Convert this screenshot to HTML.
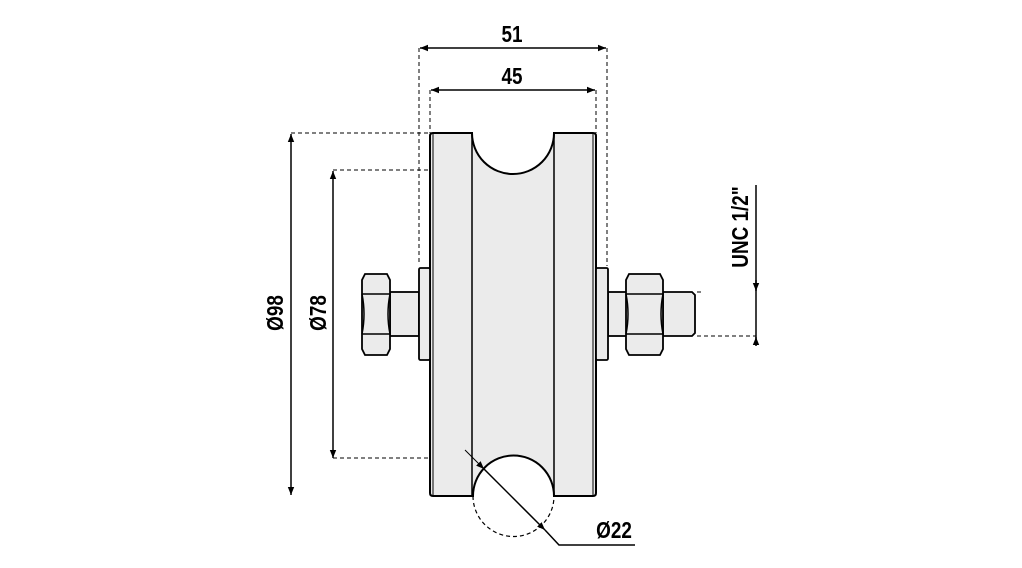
<!DOCTYPE html>
<html><head><meta charset="utf-8"><style>
html,body{margin:0;padding:0;background:#fff;}
svg{display:block}
text{font-family:"Liberation Sans Narrow","Liberation Sans",sans-serif;font-weight:bold;font-size:21px;fill:#000}
</style></head><body>
<svg width="1022" height="568" viewBox="0 0 1022 568" xmlns="http://www.w3.org/2000/svg">
<defs>
<marker id="a" viewBox="0 0 10 10" refX="10" refY="5" markerWidth="8" markerHeight="8" orient="auto-start-reverse" markerUnits="userSpaceOnUse"><path d="M0,1 L10,5 L0,9 Z" fill="#000"/></marker>
</defs>
<g stroke="#000" stroke-width="1" stroke-dasharray="4,3" fill="none">
<line x1="419" y1="48" x2="419" y2="262"/>
<line x1="607" y1="48" x2="607" y2="266"/>
<line x1="430" y1="90" x2="430" y2="133"/>
<line x1="596" y1="90" x2="596" y2="133"/>
<line x1="291" y1="133" x2="430" y2="133"/>
<line x1="333" y1="170" x2="430" y2="170"/>
<line x1="333" y1="458" x2="430" y2="458"/>
<line x1="697" y1="336" x2="756" y2="336"/>
<line x1="697" y1="292" x2="701" y2="292"/>
</g>
<g stroke="#000" stroke-width="1.5" fill="none">
<line x1="420" y1="48" x2="606" y2="48" marker-start="url(#a)" marker-end="url(#a)"/>
<line x1="431" y1="90" x2="595" y2="90" marker-start="url(#a)" marker-end="url(#a)"/>
<line x1="291" y1="134" x2="291" y2="495" marker-start="url(#a)" marker-end="url(#a)"/>
<line x1="333" y1="171" x2="333" y2="458" marker-start="url(#a)" marker-end="url(#a)"/>
<line x1="756" y1="185" x2="756" y2="345"/>
<line x1="756" y1="280" x2="756" y2="291" marker-end="url(#a)"/>
<line x1="756" y1="346" x2="756" y2="337" marker-end="url(#a)"/>
</g>
<!-- wheel -->
<path d="M430,136 Q430,133 433,133 L472,133 A41,41 0 0 0 554,133 L593,133 Q596,133 596,136 L596,493 Q596,496 593,496 L554,496 A40,40 0 0 0 473,496 L433,496 Q430,496 430,493 Z" fill="#ebebeb" stroke="#000" stroke-width="2"/>
<g stroke="#000" stroke-width="1.5">
<line x1="472" y1="133" x2="472" y2="496"/>
<line x1="554" y1="133" x2="554" y2="496"/>
<line x1="433" y1="134" x2="433" y2="495" stroke-width="1"/>
<line x1="593" y1="134" x2="593" y2="495" stroke-width="1"/>
</g>
<path d="M473,496 A40,40 0 0 0 554,496" fill="none" stroke="#000" stroke-width="1.2" stroke-dasharray="4,3"/>
<!-- washers, shafts, nuts -->
<g fill="#ebebeb" stroke="#000" stroke-width="1.8">
<rect x="390" y="292" width="29" height="44"/>
<rect x="608" y="292" width="19" height="44"/>
<path d="M663,292 L692,292 L695,295 L695,333 L692,336 L663,336 Z"/>
<rect x="419" y="268" width="11" height="92" rx="1.5"/>
<rect x="596" y="268" width="12" height="92" rx="1.5"/>
<path d="M365,274 L387,274 L390,280 L390,349 L387,355 L365,355 L362,349 L362,280 Z"/>
<path d="M629,274 L660,274 L663,280 L663,349 L660,355 L629,355 L626,349 L626,280 Z"/>
</g>
<g stroke="#000" stroke-width="1.5" fill="none">
<path d="M362,294 L390,294 M362,334 L390,334"/>
<path d="M626,294 L663,294 M626,334 L663,334"/>
<path d="M362,294 Q366,314 362,334 M390,294 Q386,314 390,334"/>
<path d="M626,294 Q630,314 626,334 M663,294 Q659,314 663,334"/>
</g>
<!-- Ø22 leader -->
<line x1="465" y1="450" x2="484" y2="469" stroke="#000" stroke-width="1" marker-end="url(#a)"/>
<line x1="545" y1="530" x2="484" y2="469" stroke="#000" stroke-width="1.5" marker-start="url(#a)"/>
<polyline points="545,530 559,545 635,545" fill="none" stroke="#000" stroke-width="1.5"/>
<text transform="translate(512,42) scale(0.9,1.1)" text-anchor="middle">51</text>
<text transform="translate(512,84) scale(0.9,1.1)" text-anchor="middle">45</text>
<text transform="translate(614,538) scale(0.9,1.1)" text-anchor="middle">Ø22</text>
<text transform="translate(283,313) rotate(-90) scale(0.9,1.1)" text-anchor="middle">Ø98</text>
<text transform="translate(326,313) rotate(-90) scale(0.9,1.1)" text-anchor="middle">Ø78</text>
<text transform="translate(748,227) rotate(-90) scale(0.9,1.1)" text-anchor="middle">UNC 1/2"</text>
</svg>
</body></html>
